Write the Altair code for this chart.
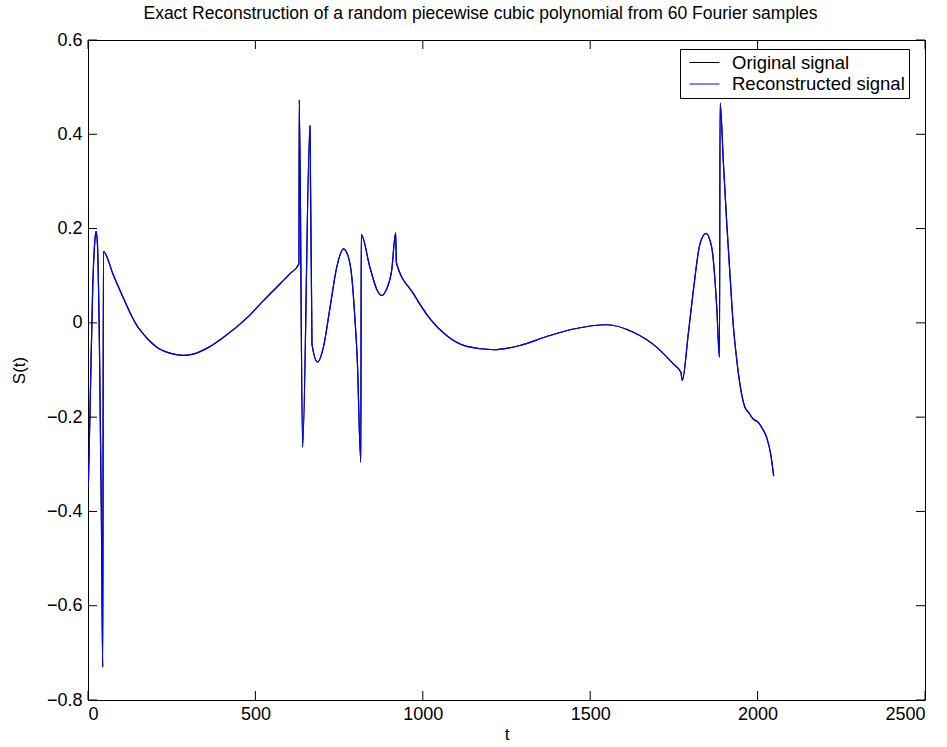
import altair as alt
import pandas as pd

# ---- data ----
t_vals = [1, 6, 14, 20, 24, 28, 34, 40, 44, 46, 76, 106, 122, 135, 148, 160, 185,
          210, 235, 260, 285, 310, 335, 360, 404, 474, 524, 574, 603, 630, 631,
          641, 663, 669, 686, 703, 723, 743, 763, 778, 788, 797, 804, 815, 816,
          842, 862, 877, 892, 907, 919, 921, 972, 1021, 1071, 1131, 1211, 1290,
          1370, 1450, 1549, 1629, 1699, 1748, 1771, 1775, 1793, 1808, 1828, 1846,
          1863, 1878, 1886, 1888, 1898, 1908, 1918, 1927, 1938, 1947, 1962, 1972,
          1987, 2002, 2015, 2027, 2039, 2048]
s_vals = [-0.347, -0.187, 0.073, 0.170, 0.194, 0.170, -0.039, -0.410, -0.730,
          0.151, 0.101, 0.052, 0.027, 0.008, -0.008, -0.019, -0.039, -0.054,
          -0.062, -0.067, -0.069, -0.067, -0.061, -0.052, -0.031, 0.010, 0.047,
          0.083, 0.104, 0.125, 0.473, -0.264, 0.418, -0.045, -0.083, -0.052,
          0.033, 0.118, 0.157, 0.139, 0.097, 0.012, -0.073, -0.296, 0.187, 0.118,
          0.072, 0.058, 0.072, 0.111, 0.191, 0.128, 0.062, 0.009, -0.027, -0.050,
          -0.057, -0.048, -0.029, -0.013, -0.004, -0.020, -0.052, -0.087, -0.105,
          -0.122, -0.023, 0.068, 0.168, 0.190, 0.160, 0.033, -0.073, 0.466, 0.337,
          0.210, 0.097, -0.002, -0.080, -0.129, -0.179, -0.189, -0.204, -0.211,
          -0.225, -0.243, -0.278, -0.325]

x_ticks = [0, 500, 1000, 1500, 2000, 2500]
y_ticks = [-0.8, -0.6, -0.4, -0.2, 0, 0.2, 0.4, 0.6]
series_names = ["Original signal", "Reconstructed signal"]
series_colors = ["#000000", "#0000ff"]
title_text = "Exact Reconstruction of a random piecewise cubic polynomial from 60 Fourier samples"

W, H = 837, 660
FONT = "Liberation Sans"

frames = []
for name in series_names:
    frames.append(pd.DataFrame({"t": t_vals, "S": s_vals, "series": name}))
df = pd.concat(frames, ignore_index=True)

x_scale = alt.Scale(domain=[0, 2500], nice=False, zero=False)
y_scale = alt.Scale(domain=[-0.8, 0.6], nice=False, zero=False)
color_scale = alt.Scale(domain=series_names, range=series_colors)

x_axis = alt.Axis(values=x_ticks, format="d", title="t", labelPadding=5,
                  titlePadding=3, tickSize=0)
y_axis = alt.Axis(values=y_ticks, title="S(t)", labelPadding=6, titlePadding=18,
                  tickSize=0,
                  labelExpr="datum.value == 0 ? '0' : format(datum.value, '.1f')")

legend = alt.Legend(title=None, orient="none", legendX=592, legendY=9,
                    strokeColor="black", fillColor="white", padding=4,
                    symbolType="M-1.67,0H1.67", symbolSize=324,
                    symbolStrokeWidth=1, symbolOffset=11,
                    labelFont=FONT, labelFontSize=18.5,
                    labelLimit=400, labelOffset=18, rowPadding=2.5,
                    labelColor="black")

def line_layer(name):
    return alt.Chart(df).transform_filter(
        alt.datum.series == name
    ).mark_line(strokeWidth=1.2, clip=True, interpolate="monotone").encode(
        x=alt.X("t:Q", scale=x_scale, axis=x_axis),
        y=alt.Y("S:Q", scale=y_scale, axis=y_axis),
        color=alt.Color("series:N", scale=color_scale, legend=legend),
    )

xt = pd.DataFrame({"t": x_ticks})
yt = pd.DataFrame({"S": y_ticks})

tick_bottom = alt.Chart(xt).mark_rule(color="black", strokeWidth=1).encode(
    x=alt.X("t:Q", scale=x_scale, axis=x_axis), y=alt.value(H), y2=alt.value(H - 9))
tick_top = alt.Chart(xt).mark_rule(color="black", strokeWidth=1).encode(
    x=alt.X("t:Q", scale=x_scale, axis=x_axis), y=alt.value(0), y2=alt.value(9))
tick_left = alt.Chart(yt).mark_rule(color="black", strokeWidth=1).encode(
    y=alt.Y("S:Q", scale=y_scale, axis=y_axis), x=alt.value(0), x2=alt.value(9))
tick_right = alt.Chart(yt).mark_rule(color="black", strokeWidth=1).encode(
    y=alt.Y("S:Q", scale=y_scale, axis=y_axis), x=alt.value(W - 9), x2=alt.value(W))

chart = alt.layer(
    line_layer(series_names[0]), line_layer(series_names[1]),
    tick_bottom, tick_top, tick_left, tick_right
).properties(
    width=W, height=H,
    title=alt.TitleParams(title_text, anchor="middle", dx=-26, offset=9),
    autosize=alt.AutoSizeParams(type="none"),
    padding={"left": 88, "top": 40, "right": 22, "bottom": 47},
    background="white",
).configure_view(
    stroke="black", strokeWidth=1
).configure_axis(
    grid=False, ticks=False, domain=False,
    labelFont=FONT, labelFontSize=18, labelColor="black",
    titleFont=FONT, titleFontSize=17, titleFontWeight="normal", titleColor="black",
).configure_title(
    font=FONT, fontSize=17.5, fontWeight="normal", color="black"
)

chart.save("out.html", embed_options={"renderer": "svg", "actions": False})
